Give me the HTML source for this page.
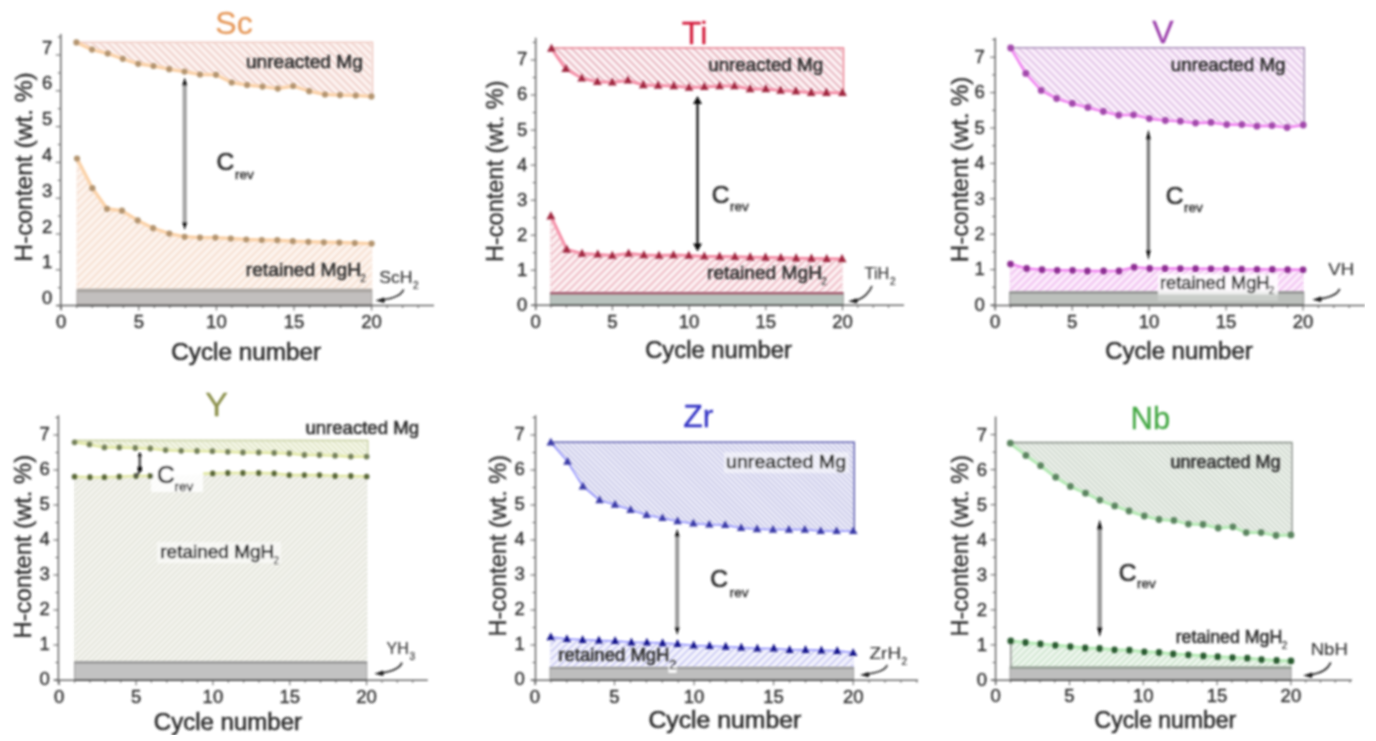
<!DOCTYPE html>
<html><head><meta charset="utf-8"><title>H-content vs cycle number</title><style>html,body{margin:0;padding:0;background:#fff;}body{width:1376px;height:741px;overflow:hidden;}svg{display:block;font-family:"Liberation Sans", sans-serif;}</style></head><body>
<svg width="1376" height="741" viewBox="0 0 1376 741" font-family='&quot;Liberation Sans&quot;, sans-serif'><defs><pattern id="p0t" patternUnits="userSpaceOnUse" width="5.4" height="5.4" patternTransform="rotate(-45)"><rect width="5.4" height="5.4" fill="#fdf3f0"/><line x1="2.7" y1="0" x2="2.7" y2="5.4" stroke="#eccbc4" stroke-width="1.6"/></pattern><pattern id="p0b" patternUnits="userSpaceOnUse" width="5.4" height="5.4" patternTransform="rotate(45)"><rect width="5.4" height="5.4" fill="#fdf4ee"/><line x1="2.7" y1="0" x2="2.7" y2="5.4" stroke="#f4dccc" stroke-width="1.6"/></pattern><pattern id="p1t" patternUnits="userSpaceOnUse" width="5.4" height="5.4" patternTransform="rotate(-45)"><rect width="5.4" height="5.4" fill="#fdf2f4"/><line x1="2.7" y1="0" x2="2.7" y2="5.4" stroke="#e2a8b4" stroke-width="1.6"/></pattern><pattern id="p1b" patternUnits="userSpaceOnUse" width="5.4" height="5.4" patternTransform="rotate(45)"><rect width="5.4" height="5.4" fill="#fdf1f3"/><line x1="2.7" y1="0" x2="2.7" y2="5.4" stroke="#eab0bc" stroke-width="1.6"/></pattern><pattern id="p2t" patternUnits="userSpaceOnUse" width="5.3" height="5.3" patternTransform="rotate(-45)"><rect width="5.3" height="5.3" fill="#fbeffb"/><line x1="2.6" y1="0" x2="2.6" y2="5.3" stroke="#dcbce4" stroke-width="1.6"/></pattern><pattern id="p2b" patternUnits="userSpaceOnUse" width="5.3" height="5.3" patternTransform="rotate(45)"><rect width="5.3" height="5.3" fill="#fcecfc"/><line x1="2.6" y1="0" x2="2.6" y2="5.3" stroke="#eeb8ee" stroke-width="1.6"/></pattern><pattern id="p3t" patternUnits="userSpaceOnUse" width="3.9" height="3.9" patternTransform="rotate(-45)"><rect width="3.9" height="3.9" fill="#f9fbee"/><line x1="1.9" y1="0" x2="1.9" y2="3.9" stroke="#d4dab4" stroke-width="1.3"/></pattern><pattern id="p3b" patternUnits="userSpaceOnUse" width="3.9" height="3.9" patternTransform="rotate(45)"><rect width="3.9" height="3.9" fill="#f9f9f4"/><line x1="1.9" y1="0" x2="1.9" y2="3.9" stroke="#d6d8cc" stroke-width="1.3"/></pattern><pattern id="p4t" patternUnits="userSpaceOnUse" width="3.6" height="3.6" patternTransform="rotate(-45)"><rect width="3.6" height="3.6" fill="#f5f5fd"/><line x1="1.8" y1="0" x2="1.8" y2="3.6" stroke="#b8b8e0" stroke-width="1.4"/></pattern><pattern id="p4b" patternUnits="userSpaceOnUse" width="5.3" height="5.3" patternTransform="rotate(45)"><rect width="5.3" height="5.3" fill="#f4f4fd"/><line x1="2.6" y1="0" x2="2.6" y2="5.3" stroke="#c4c4f2" stroke-width="1.6"/></pattern><pattern id="p5t" patternUnits="userSpaceOnUse" width="3.6" height="3.6" patternTransform="rotate(-45)"><rect width="3.6" height="3.6" fill="#f2f6f0"/><line x1="1.8" y1="0" x2="1.8" y2="3.6" stroke="#c4cec4" stroke-width="1.4"/></pattern><pattern id="p5b" patternUnits="userSpaceOnUse" width="4.5" height="4.5" patternTransform="rotate(45)"><rect width="4.5" height="4.5" fill="#f2f9f2"/><line x1="2.2" y1="0" x2="2.2" y2="4.5" stroke="#c4dec4" stroke-width="1.5"/></pattern><filter id="soft" x="0" y="0" width="100%" height="100%"><feGaussianBlur stdDeviation="0.8"/></filter><filter id="soft2" x="0" y="0" width="100%" height="100%"><feGaussianBlur stdDeviation="0.85"/></filter></defs><rect width="1376" height="741" fill="#fff"/><g filter="url(#soft2)"><polygon points="76.4,42.2 371.4,42.2 371.4,96.4 355.7,95.5 340,95.1 325,94.5 309.2,91.2 293.1,86 277.8,88.6 262.5,86.6 247.1,85 231.7,82.5 216,74.8 200,74.5 184.5,71.6 169.2,69.2 153.5,66 138.2,63.8 122.8,58.8 107.7,53.5 92,49.6 76.4,42.4" fill="url(#p0t)"/><polygon points="77,158.6 92.4,188.2 107,208.8 122,210.7 137.7,220.4 153.1,228.2 169.3,233.6 184.6,236.8 200,237.6 215.4,237.6 230.8,238.5 246.3,239.5 261.8,240 277.3,240.2 292.8,241.2 308.3,241.8 323.8,242.3 339.3,242.5 354.8,243 371.6,243.6 371.6,290 77,290" fill="url(#p0b)"/><polygon points="551.5,48 842.4,48 842.4,92.7 826.4,92.7 811.2,92.7 795.9,91.2 780.6,90.5 765.8,89 750.1,89 734.4,86.1 719.6,86.1 704.3,86.9 689,87.6 673.8,86 658.1,85.6 643.3,85 627.9,80.4 612.3,82.3 597.4,81.8 581.8,78.3 565.8,68.8 551.5,48.6" fill="url(#p1t)"/><polygon points="550.9,216.2 566.7,249.5 582,253.6 597.8,254.4 612.3,255.6 628.6,253.6 643.9,255.1 659,255.6 673.5,255.1 688.8,255.6 704.3,256.4 719.6,256.6 734.9,256.8 750.2,257.2 765.5,257.5 780.8,257.8 796.1,258.2 811.4,258.5 826.7,258.8 842,259 842,292.8 550.9,292.8" fill="url(#p1b)"/><polygon points="1010.7,47.8 1303.2,47.8 1303.2,125 1287.1,127.5 1272,125.6 1256.9,126.2 1241.8,124.6 1226.7,124.6 1211,122.4 1195.5,123.1 1180.4,121.2 1165.3,120.5 1149.3,118.6 1133.5,114.8 1118.7,115.2 1103.3,111.5 1087.9,107.4 1072.3,103.4 1056.6,98.5 1041.2,90.4 1025.8,73.4 1010.7,48" fill="url(#p2t)"/><polygon points="1010.5,264.1 1026.7,268.5 1042,269.7 1057.2,270.3 1072.6,270.3 1087.4,271 1103.6,271 1119,271 1134.1,267.2 1149.7,268.5 1165,268.5 1180.3,268.6 1195.6,268.7 1211,268.8 1226.3,269 1241.6,269.2 1257,269.3 1272.3,269.5 1287.6,269.7 1303,269.8 1303,292 1010.5,292" fill="url(#p2b)"/><polygon points="74.6,440.5 366.6,440.5 366.6,456.6 350.8,456.6 335.1,455.7 319.5,455 304.4,455 289.3,453.5 274.2,452.9 258.7,452.5 242.9,452.5 227.8,451.8 212.4,451.2 197,451 181.2,450.8 165.6,450.1 150.3,448.5 135.3,448 119.3,447.4 104.4,447.4 89.5,444.4 74.6,442.3" fill="url(#p3t)"/><polygon points="74.6,476.7 89.9,477.2 104.4,477.2 119.3,476.7 136,476 150.3,476 166,475.5 181.5,475 197,474.5 212.7,473.4 227.8,473 242.9,473 258.7,473 274.2,473.4 289.3,475.1 304.4,475.1 319.5,475.1 335.1,476 350.8,476 366.6,476.6 366.6,662 74.6,662" fill="url(#p3b)"/><polygon points="550.8,442.2 853.2,442.2 853.2,531 836.6,531 820.7,531 804.8,529.6 788.9,529.6 773,529.6 757,529.1 741.1,528 725.2,525 709.3,524.5 693.4,523.4 677.6,521.2 662.5,518 646.6,515 630.6,509.8 615,504.7 599.6,500.1 582.9,486.4 567.5,461.6 550.8,442.3" fill="url(#p4t)"/><polygon points="550.8,637.1 566.9,639 582.6,639.8 598.9,640.4 615.1,640.9 631.4,642.3 646.9,642.5 662.6,643.1 677.5,643.9 693.7,645.4 709.6,645.9 725.7,646.7 741.3,647.4 757.4,648.4 773.8,648.4 789.6,649.8 805.5,649.8 821.4,650.3 837.2,650.8 853.1,652.8 853.1,667.4 550.8,667.4" fill="url(#p4b)"/><polygon points="1010.3,442.6 1290.9,442.6 1290.9,534.9 1276,535.5 1261.1,532.6 1246.2,532.6 1232.9,526.8 1218.2,528 1203,524.5 1188.4,524.1 1173.9,520.4 1159,519.5 1144.3,516 1129,511 1114.7,505.9 1099.8,500.1 1085.5,493.2 1070.4,486.4 1055.7,477.2 1040.6,465.7 1025.9,455.4 1010.3,443.2" fill="url(#p5t)"/><polygon points="1010.8,640.9 1025.5,642.5 1040.4,643.9 1055.3,645.3 1070.3,646.6 1085.2,648 1099.6,648.5 1114.5,649.8 1129.4,650.2 1144.3,651.8 1159,652.5 1173.2,653.9 1188.3,654.8 1203.4,655.9 1217.7,656.7 1232.5,657.6 1247.3,658.2 1261.5,659.6 1276.6,660.4 1290.9,661 1290.9,667.2 1010.8,667.2" fill="url(#p5b)"/></g><g filter="url(#soft)"><g><polyline points="76.4,42.2 372.4,42.2 372.4,96.4" fill="none" stroke="#eec8c0" stroke-width="1.6"/><line x1="77" y1="158.6" x2="77" y2="290" stroke="#f4dccc" stroke-width="1" stroke-dasharray="2,2"/><line x1="371.6" y1="243.6" x2="371.6" y2="290" stroke="#f4dccc" stroke-width="1" stroke-dasharray="2,2"/><rect x="77" y="290" width="294.8" height="15.6" fill="#c2bfbe" stroke="#a09c99" stroke-width="1"/><line x1="77" y1="290.5" x2="371.8" y2="290.5" stroke="#a8a4a0" stroke-width="3.5"/><polyline points="76.4,42.4 92,49.6 107.7,53.5 122.8,58.8 138.2,63.8 153.5,66 169.2,69.2 184.5,71.6 200,74.5 216,74.8 231.7,82.5 247.1,85 262.5,86.6 277.8,88.6 293.1,86 309.2,91.2 325,94.5 340,95.1 355.7,95.5 371.4,96.4" fill="none" stroke="#fbd2a8" stroke-width="3.4" stroke-linejoin="round"/><circle cx="76.4" cy="42.4" r="3.1" fill="#b3946f"/><circle cx="92" cy="49.6" r="3.1" fill="#b3946f"/><circle cx="107.7" cy="53.5" r="3.1" fill="#b3946f"/><circle cx="122.8" cy="58.8" r="3.1" fill="#b3946f"/><circle cx="138.2" cy="63.8" r="3.1" fill="#b3946f"/><circle cx="153.5" cy="66" r="3.1" fill="#b3946f"/><circle cx="169.2" cy="69.2" r="3.1" fill="#b3946f"/><circle cx="184.5" cy="71.6" r="3.1" fill="#b3946f"/><circle cx="200" cy="74.5" r="3.1" fill="#b3946f"/><circle cx="216" cy="74.8" r="3.1" fill="#b3946f"/><circle cx="231.7" cy="82.5" r="3.1" fill="#b3946f"/><circle cx="247.1" cy="85" r="3.1" fill="#b3946f"/><circle cx="262.5" cy="86.6" r="3.1" fill="#b3946f"/><circle cx="277.8" cy="88.6" r="3.1" fill="#b3946f"/><circle cx="293.1" cy="86" r="3.1" fill="#b3946f"/><circle cx="309.2" cy="91.2" r="3.1" fill="#b3946f"/><circle cx="325" cy="94.5" r="3.1" fill="#b3946f"/><circle cx="340" cy="95.1" r="3.1" fill="#b3946f"/><circle cx="355.7" cy="95.5" r="3.1" fill="#b3946f"/><circle cx="371.4" cy="96.4" r="3.1" fill="#b3946f"/><polyline points="77,158.6 92.4,188.2 107,208.8 122,210.7 137.7,220.4 153.1,228.2 169.3,233.6 184.6,236.8 200,237.6 215.4,237.6 230.8,238.5 246.3,239.5 261.8,240 277.3,240.2 292.8,241.2 308.3,241.8 323.8,242.3 339.3,242.5 354.8,243 371.6,243.6" fill="none" stroke="#fbd2a8" stroke-width="3.4" stroke-linejoin="round"/><circle cx="77" cy="158.6" r="3.1" fill="#b3946f"/><circle cx="92.4" cy="188.2" r="3.1" fill="#b3946f"/><circle cx="107" cy="208.8" r="3.1" fill="#b3946f"/><circle cx="122" cy="210.7" r="3.1" fill="#b3946f"/><circle cx="137.7" cy="220.4" r="3.1" fill="#b3946f"/><circle cx="153.1" cy="228.2" r="3.1" fill="#b3946f"/><circle cx="169.3" cy="233.6" r="3.1" fill="#b3946f"/><circle cx="184.6" cy="236.8" r="3.1" fill="#b3946f"/><circle cx="200" cy="237.6" r="3.1" fill="#b3946f"/><circle cx="215.4" cy="237.6" r="3.1" fill="#b3946f"/><circle cx="230.8" cy="238.5" r="3.1" fill="#b3946f"/><circle cx="246.3" cy="239.5" r="3.1" fill="#b3946f"/><circle cx="261.8" cy="240" r="3.1" fill="#b3946f"/><circle cx="277.3" cy="240.2" r="3.1" fill="#b3946f"/><circle cx="292.8" cy="241.2" r="3.1" fill="#b3946f"/><circle cx="308.3" cy="241.8" r="3.1" fill="#b3946f"/><circle cx="323.8" cy="242.3" r="3.1" fill="#b3946f"/><circle cx="339.3" cy="242.5" r="3.1" fill="#b3946f"/><circle cx="354.8" cy="243" r="3.1" fill="#b3946f"/><circle cx="371.6" cy="243.6" r="3.1" fill="#b3946f"/><line x1="60.8" y1="34" x2="60.8" y2="309.6" stroke="#666" stroke-width="1.5"/><line x1="56.8" y1="305.6" x2="434" y2="305.6" stroke="#666" stroke-width="1.5"/><line x1="77" y1="305.3" x2="371.8" y2="305.3" stroke="#4a4a4a" stroke-width="1.8"/><line x1="55.8" y1="305.6" x2="60.8" y2="305.6" stroke="#666" stroke-width="1.1"/><line x1="57.8" y1="287.7" x2="60.8" y2="287.7" stroke="#666" stroke-width="1.1"/><line x1="55.8" y1="269.8" x2="60.8" y2="269.8" stroke="#666" stroke-width="1.1"/><line x1="57.8" y1="251.9" x2="60.8" y2="251.9" stroke="#666" stroke-width="1.1"/><line x1="55.8" y1="234" x2="60.8" y2="234" stroke="#666" stroke-width="1.1"/><line x1="57.8" y1="216.1" x2="60.8" y2="216.1" stroke="#666" stroke-width="1.1"/><line x1="55.8" y1="198.2" x2="60.8" y2="198.2" stroke="#666" stroke-width="1.1"/><line x1="57.8" y1="180.3" x2="60.8" y2="180.3" stroke="#666" stroke-width="1.1"/><line x1="55.8" y1="162.4" x2="60.8" y2="162.4" stroke="#666" stroke-width="1.1"/><line x1="57.8" y1="144.5" x2="60.8" y2="144.5" stroke="#666" stroke-width="1.1"/><line x1="55.8" y1="126.6" x2="60.8" y2="126.6" stroke="#666" stroke-width="1.1"/><line x1="57.8" y1="108.7" x2="60.8" y2="108.7" stroke="#666" stroke-width="1.1"/><line x1="55.8" y1="90.8" x2="60.8" y2="90.8" stroke="#666" stroke-width="1.1"/><line x1="57.8" y1="72.9" x2="60.8" y2="72.9" stroke="#666" stroke-width="1.1"/><line x1="55.8" y1="55" x2="60.8" y2="55" stroke="#666" stroke-width="1.1"/><line x1="57.8" y1="37.1" x2="60.8" y2="37.1" stroke="#666" stroke-width="1.1"/><text x="52.3" y="304.1" font-size="18.5" fill="#303030" stroke="#303030" stroke-width="0.4" text-anchor="end">0</text><text x="52.3" y="268.3" font-size="18.5" fill="#303030" stroke="#303030" stroke-width="0.4" text-anchor="end">1</text><text x="52.3" y="232.5" font-size="18.5" fill="#303030" stroke="#303030" stroke-width="0.4" text-anchor="end">2</text><text x="52.3" y="196.7" font-size="18.5" fill="#303030" stroke="#303030" stroke-width="0.4" text-anchor="end">3</text><text x="52.3" y="160.9" font-size="18.5" fill="#303030" stroke="#303030" stroke-width="0.4" text-anchor="end">4</text><text x="52.3" y="125.1" font-size="18.5" fill="#303030" stroke="#303030" stroke-width="0.4" text-anchor="end">5</text><text x="52.3" y="89.3" font-size="18.5" fill="#303030" stroke="#303030" stroke-width="0.4" text-anchor="end">6</text><text x="52.3" y="53.5" font-size="18.5" fill="#303030" stroke="#303030" stroke-width="0.4" text-anchor="end">7</text><line x1="61.2" y1="305.6" x2="61.2" y2="310.6" stroke="#666" stroke-width="1.1"/><line x1="76.7" y1="305.6" x2="76.7" y2="308.1" stroke="#666" stroke-width="1.1"/><line x1="92.2" y1="305.6" x2="92.2" y2="308.1" stroke="#666" stroke-width="1.1"/><line x1="107.8" y1="305.6" x2="107.8" y2="308.1" stroke="#666" stroke-width="1.1"/><line x1="123.3" y1="305.6" x2="123.3" y2="308.1" stroke="#666" stroke-width="1.1"/><line x1="138.8" y1="305.6" x2="138.8" y2="310.6" stroke="#666" stroke-width="1.1"/><line x1="154.3" y1="305.6" x2="154.3" y2="308.1" stroke="#666" stroke-width="1.1"/><line x1="169.8" y1="305.6" x2="169.8" y2="308.1" stroke="#666" stroke-width="1.1"/><line x1="185.4" y1="305.6" x2="185.4" y2="308.1" stroke="#666" stroke-width="1.1"/><line x1="200.9" y1="305.6" x2="200.9" y2="308.1" stroke="#666" stroke-width="1.1"/><line x1="216.4" y1="305.6" x2="216.4" y2="310.6" stroke="#666" stroke-width="1.1"/><line x1="231.9" y1="305.6" x2="231.9" y2="308.1" stroke="#666" stroke-width="1.1"/><line x1="247.4" y1="305.6" x2="247.4" y2="308.1" stroke="#666" stroke-width="1.1"/><line x1="263" y1="305.6" x2="263" y2="308.1" stroke="#666" stroke-width="1.1"/><line x1="278.5" y1="305.6" x2="278.5" y2="308.1" stroke="#666" stroke-width="1.1"/><line x1="294" y1="305.6" x2="294" y2="310.6" stroke="#666" stroke-width="1.1"/><line x1="309.5" y1="305.6" x2="309.5" y2="308.1" stroke="#666" stroke-width="1.1"/><line x1="325" y1="305.6" x2="325" y2="308.1" stroke="#666" stroke-width="1.1"/><line x1="340.6" y1="305.6" x2="340.6" y2="308.1" stroke="#666" stroke-width="1.1"/><line x1="356.1" y1="305.6" x2="356.1" y2="308.1" stroke="#666" stroke-width="1.1"/><line x1="371.6" y1="305.6" x2="371.6" y2="310.6" stroke="#666" stroke-width="1.1"/><line x1="387.1" y1="305.6" x2="387.1" y2="308.1" stroke="#666" stroke-width="1.1"/><line x1="402.6" y1="305.6" x2="402.6" y2="308.1" stroke="#666" stroke-width="1.1"/><line x1="418.2" y1="305.6" x2="418.2" y2="308.1" stroke="#666" stroke-width="1.1"/><text x="61.2" y="327.9" font-size="18.5" fill="#303030" stroke="#303030" stroke-width="0.4" text-anchor="middle">0</text><text x="138.8" y="327.9" font-size="18.5" fill="#303030" stroke="#303030" stroke-width="0.4" text-anchor="middle">5</text><text x="216.4" y="327.9" font-size="18.5" fill="#303030" stroke="#303030" stroke-width="0.4" text-anchor="middle">10</text><text x="294" y="327.9" font-size="18.5" fill="#303030" stroke="#303030" stroke-width="0.4" text-anchor="middle">15</text><text x="371.6" y="327.9" font-size="18.5" fill="#303030" stroke="#303030" stroke-width="0.4" text-anchor="middle">20</text><text x="171.2" y="359.7" font-size="23.5" fill="#303030" stroke="#303030" stroke-width="0.6" text-anchor="start" textLength="149.9" lengthAdjust="spacingAndGlyphs">Cycle number</text><text transform="translate(31.5,167) rotate(-90)" x="0" y="0" font-size="24.5" fill="#303030" stroke="#303030" stroke-width="0.4" text-anchor="middle" textLength="189.5" lengthAdjust="spacingAndGlyphs">H-content (wt. %)</text><text x="234" y="34" font-size="32" fill="#e69a5c" stroke="#e69a5c" stroke-width="0.3" text-anchor="middle">Sc</text><text x="245.9" y="68.3" font-size="17.5" fill="#303030" stroke="#303030" stroke-width="0.6" text-anchor="start" textLength="117" lengthAdjust="spacingAndGlyphs">unreacted Mg</text><text x="245.8" y="276.2" font-size="17.5" fill="#303030" stroke="#303030" stroke-width="0.6" text-anchor="start" textLength="115.3" lengthAdjust="spacingAndGlyphs">retained MgH</text><text x="360.3" y="281.7" font-size="10" fill="#303030" stroke="#303030" stroke-width="0.2" text-anchor="start">2</text><text x="216.6" y="169.7" font-size="24.5" fill="#303030" stroke="#303030" stroke-width="0.7" text-anchor="start">C</text><text x="235" y="179" font-size="13.5" fill="#303030" stroke="#303030" stroke-width="0.4" text-anchor="start">rev</text><line x1="184.7" y1="84.5" x2="184.7" y2="223" stroke="#a4a4a4" stroke-width="4.2"/><polygon points="184.7,77.5 182.1,85.5 187.3,85.5" fill="#111"/><polygon points="184.7,230 182.1,222 187.3,222" fill="#111"/><text x="379.2" y="283.4" font-size="16" fill="#303030" stroke="#303030" stroke-width="0.1" text-anchor="start" textLength="33.3" lengthAdjust="spacingAndGlyphs">ScH</text><text x="413" y="289.4" font-size="10" fill="#303030" stroke="#303030" stroke-width="0.2" text-anchor="start">2</text><path d="M403.6,289.5 C401.6,294.5 395.6,298.3 382,299.8" fill="none" stroke="#2a2a2a" stroke-width="1.7"/><polygon points="375.5,300.6 384,297.5 385,300.8 384,302.9" fill="#222"/></g>
<g><polyline points="551.5,48 843.4,48 843.4,92.7" fill="none" stroke="#e88090" stroke-width="1.6"/><line x1="550.9" y1="216.2" x2="550.9" y2="292.8" stroke="#eab0bc" stroke-width="1" stroke-dasharray="2,2"/><line x1="842" y1="259" x2="842" y2="292.8" stroke="#eab0bc" stroke-width="1" stroke-dasharray="2,2"/><rect x="550.4" y="292.8" width="292.9" height="12.5" fill="#b8c2bd" stroke="#9aa09c" stroke-width="1"/><line x1="550.4" y1="293.3" x2="843.3" y2="293.3" stroke="#a05068" stroke-width="2.5"/><polyline points="551.5,48.6 565.8,68.8 581.8,78.3 597.4,81.8 612.3,82.3 627.9,80.4 643.3,85 658.1,85.6 673.8,86 689,87.6 704.3,86.9 719.6,86.1 734.4,86.1 750.1,89 765.8,89 780.6,90.5 795.9,91.2 811.2,92.7 826.4,92.7 842.4,92.7" fill="none" stroke="#f590a8" stroke-width="3" stroke-linejoin="round"/><polygon points="551.5,43.7 547,51.8 556,51.8" fill="#a02840"/><polygon points="565.8,63.9 561.3,72 570.3,72" fill="#a02840"/><polygon points="581.8,73.4 577.3,81.5 586.3,81.5" fill="#a02840"/><polygon points="597.4,76.9 592.9,85 601.9,85" fill="#a02840"/><polygon points="612.3,77.4 607.8,85.5 616.8,85.5" fill="#a02840"/><polygon points="627.9,75.5 623.4,83.6 632.4,83.6" fill="#a02840"/><polygon points="643.3,80.1 638.8,88.2 647.8,88.2" fill="#a02840"/><polygon points="658.1,80.7 653.6,88.8 662.6,88.8" fill="#a02840"/><polygon points="673.8,81.1 669.3,89.2 678.3,89.2" fill="#a02840"/><polygon points="689,82.7 684.5,90.8 693.5,90.8" fill="#a02840"/><polygon points="704.3,82 699.8,90.1 708.8,90.1" fill="#a02840"/><polygon points="719.6,81.2 715.1,89.3 724.1,89.3" fill="#a02840"/><polygon points="734.4,81.2 729.9,89.3 738.9,89.3" fill="#a02840"/><polygon points="750.1,84.1 745.6,92.2 754.6,92.2" fill="#a02840"/><polygon points="765.8,84.1 761.3,92.2 770.3,92.2" fill="#a02840"/><polygon points="780.6,85.6 776.1,93.7 785.1,93.7" fill="#a02840"/><polygon points="795.9,86.3 791.4,94.4 800.4,94.4" fill="#a02840"/><polygon points="811.2,87.8 806.7,95.9 815.7,95.9" fill="#a02840"/><polygon points="826.4,87.8 821.9,95.9 830.9,95.9" fill="#a02840"/><polygon points="842.4,87.8 837.9,95.9 846.9,95.9" fill="#a02840"/><polyline points="550.9,216.2 566.7,249.5 582,253.6 597.8,254.4 612.3,255.6 628.6,253.6 643.9,255.1 659,255.6 673.5,255.1 688.8,255.6 704.3,256.4 719.6,256.6 734.9,256.8 750.2,257.2 765.5,257.5 780.8,257.8 796.1,258.2 811.4,258.5 826.7,258.8 842,259" fill="none" stroke="#f590a8" stroke-width="3" stroke-linejoin="round"/><polygon points="550.9,211.3 546.4,219.4 555.4,219.4" fill="#a02840"/><polygon points="566.7,244.6 562.2,252.7 571.2,252.7" fill="#a02840"/><polygon points="582,248.7 577.5,256.8 586.5,256.8" fill="#a02840"/><polygon points="597.8,249.5 593.3,257.6 602.3,257.6" fill="#a02840"/><polygon points="612.3,250.7 607.8,258.8 616.8,258.8" fill="#a02840"/><polygon points="628.6,248.7 624.1,256.8 633.1,256.8" fill="#a02840"/><polygon points="643.9,250.2 639.4,258.3 648.4,258.3" fill="#a02840"/><polygon points="659,250.7 654.5,258.8 663.5,258.8" fill="#a02840"/><polygon points="673.5,250.2 669,258.3 678,258.3" fill="#a02840"/><polygon points="688.8,250.7 684.3,258.8 693.3,258.8" fill="#a02840"/><polygon points="704.3,251.5 699.8,259.6 708.8,259.6" fill="#a02840"/><polygon points="719.6,251.7 715.1,259.8 724.1,259.8" fill="#a02840"/><polygon points="734.9,251.9 730.4,260 739.4,260" fill="#a02840"/><polygon points="750.2,252.3 745.7,260.4 754.7,260.4" fill="#a02840"/><polygon points="765.5,252.6 761,260.7 770,260.7" fill="#a02840"/><polygon points="780.8,252.9 776.3,261 785.3,261" fill="#a02840"/><polygon points="796.1,253.3 791.6,261.4 800.6,261.4" fill="#a02840"/><polygon points="811.4,253.6 806.9,261.7 815.9,261.7" fill="#a02840"/><polygon points="826.7,253.9 822.2,262 831.2,262" fill="#a02840"/><polygon points="842,254.1 837.5,262.2 846.5,262.2" fill="#a02840"/><line x1="535.7" y1="37.8" x2="535.7" y2="309.3" stroke="#666" stroke-width="1.5"/><line x1="531.7" y1="305.3" x2="904" y2="305.3" stroke="#666" stroke-width="1.5"/><line x1="550.4" y1="305" x2="843.3" y2="305" stroke="#4a4a4a" stroke-width="1.8"/><line x1="530.7" y1="305.3" x2="535.7" y2="305.3" stroke="#666" stroke-width="1.1"/><line x1="532.7" y1="287.8" x2="535.7" y2="287.8" stroke="#666" stroke-width="1.1"/><line x1="530.7" y1="270.2" x2="535.7" y2="270.2" stroke="#666" stroke-width="1.1"/><line x1="532.7" y1="252.7" x2="535.7" y2="252.7" stroke="#666" stroke-width="1.1"/><line x1="530.7" y1="235.2" x2="535.7" y2="235.2" stroke="#666" stroke-width="1.1"/><line x1="532.7" y1="217.7" x2="535.7" y2="217.7" stroke="#666" stroke-width="1.1"/><line x1="530.7" y1="200.2" x2="535.7" y2="200.2" stroke="#666" stroke-width="1.1"/><line x1="532.7" y1="182.6" x2="535.7" y2="182.6" stroke="#666" stroke-width="1.1"/><line x1="530.7" y1="165.1" x2="535.7" y2="165.1" stroke="#666" stroke-width="1.1"/><line x1="532.7" y1="147.6" x2="535.7" y2="147.6" stroke="#666" stroke-width="1.1"/><line x1="530.7" y1="130.1" x2="535.7" y2="130.1" stroke="#666" stroke-width="1.1"/><line x1="532.7" y1="112.5" x2="535.7" y2="112.5" stroke="#666" stroke-width="1.1"/><line x1="530.7" y1="95" x2="535.7" y2="95" stroke="#666" stroke-width="1.1"/><line x1="532.7" y1="77.5" x2="535.7" y2="77.5" stroke="#666" stroke-width="1.1"/><line x1="530.7" y1="60" x2="535.7" y2="60" stroke="#666" stroke-width="1.1"/><line x1="532.7" y1="42.4" x2="535.7" y2="42.4" stroke="#666" stroke-width="1.1"/><text x="527.2" y="310.7" font-size="18.5" fill="#303030" stroke="#303030" stroke-width="0.4" text-anchor="end">0</text><text x="527.2" y="275.7" font-size="18.5" fill="#303030" stroke="#303030" stroke-width="0.4" text-anchor="end">1</text><text x="527.2" y="240.6" font-size="18.5" fill="#303030" stroke="#303030" stroke-width="0.4" text-anchor="end">2</text><text x="527.2" y="205.6" font-size="18.5" fill="#303030" stroke="#303030" stroke-width="0.4" text-anchor="end">3</text><text x="527.2" y="170.5" font-size="18.5" fill="#303030" stroke="#303030" stroke-width="0.4" text-anchor="end">4</text><text x="527.2" y="135.5" font-size="18.5" fill="#303030" stroke="#303030" stroke-width="0.4" text-anchor="end">5</text><text x="527.2" y="100.4" font-size="18.5" fill="#303030" stroke="#303030" stroke-width="0.4" text-anchor="end">6</text><text x="527.2" y="65.4" font-size="18.5" fill="#303030" stroke="#303030" stroke-width="0.4" text-anchor="end">7</text><line x1="535.7" y1="305.3" x2="535.7" y2="310.3" stroke="#666" stroke-width="1.1"/><line x1="551" y1="305.3" x2="551" y2="307.8" stroke="#666" stroke-width="1.1"/><line x1="566.4" y1="305.3" x2="566.4" y2="307.8" stroke="#666" stroke-width="1.1"/><line x1="581.7" y1="305.3" x2="581.7" y2="307.8" stroke="#666" stroke-width="1.1"/><line x1="597.1" y1="305.3" x2="597.1" y2="307.8" stroke="#666" stroke-width="1.1"/><line x1="612.4" y1="305.3" x2="612.4" y2="310.3" stroke="#666" stroke-width="1.1"/><line x1="627.7" y1="305.3" x2="627.7" y2="307.8" stroke="#666" stroke-width="1.1"/><line x1="643.1" y1="305.3" x2="643.1" y2="307.8" stroke="#666" stroke-width="1.1"/><line x1="658.4" y1="305.3" x2="658.4" y2="307.8" stroke="#666" stroke-width="1.1"/><line x1="673.8" y1="305.3" x2="673.8" y2="307.8" stroke="#666" stroke-width="1.1"/><line x1="689.1" y1="305.3" x2="689.1" y2="310.3" stroke="#666" stroke-width="1.1"/><line x1="704.4" y1="305.3" x2="704.4" y2="307.8" stroke="#666" stroke-width="1.1"/><line x1="719.8" y1="305.3" x2="719.8" y2="307.8" stroke="#666" stroke-width="1.1"/><line x1="735.1" y1="305.3" x2="735.1" y2="307.8" stroke="#666" stroke-width="1.1"/><line x1="750.5" y1="305.3" x2="750.5" y2="307.8" stroke="#666" stroke-width="1.1"/><line x1="765.8" y1="305.3" x2="765.8" y2="310.3" stroke="#666" stroke-width="1.1"/><line x1="781.1" y1="305.3" x2="781.1" y2="307.8" stroke="#666" stroke-width="1.1"/><line x1="796.5" y1="305.3" x2="796.5" y2="307.8" stroke="#666" stroke-width="1.1"/><line x1="811.8" y1="305.3" x2="811.8" y2="307.8" stroke="#666" stroke-width="1.1"/><line x1="827.2" y1="305.3" x2="827.2" y2="307.8" stroke="#666" stroke-width="1.1"/><line x1="842.5" y1="305.3" x2="842.5" y2="310.3" stroke="#666" stroke-width="1.1"/><line x1="857.8" y1="305.3" x2="857.8" y2="307.8" stroke="#666" stroke-width="1.1"/><line x1="873.2" y1="305.3" x2="873.2" y2="307.8" stroke="#666" stroke-width="1.1"/><line x1="888.5" y1="305.3" x2="888.5" y2="307.8" stroke="#666" stroke-width="1.1"/><text x="535.7" y="327.8" font-size="18.5" fill="#303030" stroke="#303030" stroke-width="0.4" text-anchor="middle">0</text><text x="612.4" y="327.8" font-size="18.5" fill="#303030" stroke="#303030" stroke-width="0.4" text-anchor="middle">5</text><text x="689.1" y="327.8" font-size="18.5" fill="#303030" stroke="#303030" stroke-width="0.4" text-anchor="middle">10</text><text x="765.8" y="327.8" font-size="18.5" fill="#303030" stroke="#303030" stroke-width="0.4" text-anchor="middle">15</text><text x="842.5" y="327.8" font-size="18.5" fill="#303030" stroke="#303030" stroke-width="0.4" text-anchor="middle">20</text><text x="645.2" y="358.1" font-size="23.5" fill="#303030" stroke="#303030" stroke-width="0.6" text-anchor="start" textLength="146.8" lengthAdjust="spacingAndGlyphs">Cycle number</text><text transform="translate(503,171.2) rotate(-90)" x="0" y="0" font-size="24.5" fill="#303030" stroke="#303030" stroke-width="0.4" text-anchor="middle" textLength="181.5" lengthAdjust="spacingAndGlyphs">H-content (wt. %)</text><text x="694.5" y="43.6" font-size="32" fill="#d42040" stroke="#d42040" stroke-width="0.3" text-anchor="middle">Ti</text><text x="708.2" y="70.9" font-size="17.5" fill="#303030" stroke="#303030" stroke-width="0.6" text-anchor="start" textLength="115" lengthAdjust="spacingAndGlyphs">unreacted Mg</text><text x="707.1" y="279.3" font-size="17.5" fill="#303030" stroke="#303030" stroke-width="0.6" text-anchor="start" textLength="114.9" lengthAdjust="spacingAndGlyphs">retained MgH</text><text x="821.2" y="284.8" font-size="10" fill="#303030" stroke="#303030" stroke-width="0.2" text-anchor="start">2</text><text x="711.8" y="203.4" font-size="24.5" fill="#303030" stroke="#303030" stroke-width="0.7" text-anchor="start">C</text><text x="730" y="211.3" font-size="13.5" fill="#303030" stroke="#303030" stroke-width="0.4" text-anchor="start">rev</text><line x1="697.5" y1="103.1" x2="697.5" y2="244.5" stroke="#2a2a2a" stroke-width="2.6"/><polygon points="697.5,96.1 693,104.1 702,104.1" fill="#111"/><polygon points="697.5,251.5 693,243.5 702,243.5" fill="#111"/><text x="864.6" y="279.3" font-size="16" fill="#303030" stroke="#303030" stroke-width="0.1" text-anchor="start" textLength="24.7" lengthAdjust="spacingAndGlyphs">TiH</text><text x="889.9" y="285.3" font-size="10" fill="#303030" stroke="#303030" stroke-width="0.2" text-anchor="start">2</text><path d="M872,286 C870,291 864,299 854.7,300.5" fill="none" stroke="#2a2a2a" stroke-width="1.7"/><polygon points="848.2,301.3 856.7,298.2 857.7,301.5 856.7,303.6" fill="#222"/></g>
<g><polyline points="1010.7,47.8 1304.2,47.8 1304.2,125" fill="none" stroke="#a890b8" stroke-width="1.6"/><line x1="1010.5" y1="264.1" x2="1010.5" y2="292" stroke="#eeb8ee" stroke-width="1" stroke-dasharray="2,2"/><line x1="1303" y1="269.8" x2="1303" y2="292" stroke="#eeb8ee" stroke-width="1" stroke-dasharray="2,2"/><rect x="1009.7" y="292" width="294" height="13.5" fill="#bcc0bc" stroke="#8c8c8c" stroke-width="1"/><line x1="1009.7" y1="292.5" x2="1303.7" y2="292.5" stroke="#858585" stroke-width="2"/><rect x="1158" y="274" width="120" height="20.5" fill="#fff" fill-opacity="0.85"/><rect x="1158" y="294.5" width="120" height="6.5" fill="#fff" fill-opacity="0.22"/><polyline points="1010.7,48 1025.8,73.4 1041.2,90.4 1056.6,98.5 1072.3,103.4 1087.9,107.4 1103.3,111.5 1118.7,115.2 1133.5,114.8 1149.3,118.6 1165.3,120.5 1180.4,121.2 1195.5,123.1 1211,122.4 1226.7,124.6 1241.8,124.6 1256.9,126.2 1272,125.6 1287.1,127.5 1303.2,125" fill="none" stroke="#f184f1" stroke-width="2.6" stroke-linejoin="round"/><circle cx="1010.7" cy="48" r="3.4" fill="#a24aab"/><circle cx="1025.8" cy="73.4" r="3.4" fill="#a24aab"/><circle cx="1041.2" cy="90.4" r="3.4" fill="#a24aab"/><circle cx="1056.6" cy="98.5" r="3.4" fill="#a24aab"/><circle cx="1072.3" cy="103.4" r="3.4" fill="#a24aab"/><circle cx="1087.9" cy="107.4" r="3.4" fill="#a24aab"/><circle cx="1103.3" cy="111.5" r="3.4" fill="#a24aab"/><circle cx="1118.7" cy="115.2" r="3.4" fill="#a24aab"/><circle cx="1133.5" cy="114.8" r="3.4" fill="#a24aab"/><circle cx="1149.3" cy="118.6" r="3.4" fill="#a24aab"/><circle cx="1165.3" cy="120.5" r="3.4" fill="#a24aab"/><circle cx="1180.4" cy="121.2" r="3.4" fill="#a24aab"/><circle cx="1195.5" cy="123.1" r="3.4" fill="#a24aab"/><circle cx="1211" cy="122.4" r="3.4" fill="#a24aab"/><circle cx="1226.7" cy="124.6" r="3.4" fill="#a24aab"/><circle cx="1241.8" cy="124.6" r="3.4" fill="#a24aab"/><circle cx="1256.9" cy="126.2" r="3.4" fill="#a24aab"/><circle cx="1272" cy="125.6" r="3.4" fill="#a24aab"/><circle cx="1287.1" cy="127.5" r="3.4" fill="#a24aab"/><circle cx="1303.2" cy="125" r="3.4" fill="#a24aab"/><polyline points="1010.5,264.1 1026.7,268.5 1042,269.7 1057.2,270.3 1072.6,270.3 1087.4,271 1103.6,271 1119,271 1134.1,267.2 1149.7,268.5 1165,268.5 1180.3,268.6 1195.6,268.7 1211,268.8 1226.3,269 1241.6,269.2 1257,269.3 1272.3,269.5 1287.6,269.7 1303,269.8" fill="none" stroke="#f184f1" stroke-width="2.6" stroke-linejoin="round"/><circle cx="1010.5" cy="264.1" r="3.4" fill="#8c2e92"/><circle cx="1026.7" cy="268.5" r="3.4" fill="#8c2e92"/><circle cx="1042" cy="269.7" r="3.4" fill="#8c2e92"/><circle cx="1057.2" cy="270.3" r="3.4" fill="#8c2e92"/><circle cx="1072.6" cy="270.3" r="3.4" fill="#8c2e92"/><circle cx="1087.4" cy="271" r="3.4" fill="#8c2e92"/><circle cx="1103.6" cy="271" r="3.4" fill="#8c2e92"/><circle cx="1119" cy="271" r="3.4" fill="#8c2e92"/><circle cx="1134.1" cy="267.2" r="3.4" fill="#8c2e92"/><circle cx="1149.7" cy="268.5" r="3.4" fill="#8c2e92"/><circle cx="1165" cy="268.5" r="3.4" fill="#8c2e92"/><circle cx="1180.3" cy="268.6" r="3.4" fill="#8c2e92"/><circle cx="1195.6" cy="268.7" r="3.4" fill="#8c2e92"/><circle cx="1211" cy="268.8" r="3.4" fill="#8c2e92"/><circle cx="1226.3" cy="269" r="3.4" fill="#8c2e92"/><circle cx="1241.6" cy="269.2" r="3.4" fill="#8c2e92"/><circle cx="1257" cy="269.3" r="3.4" fill="#8c2e92"/><circle cx="1272.3" cy="269.5" r="3.4" fill="#8c2e92"/><circle cx="1287.6" cy="269.7" r="3.4" fill="#8c2e92"/><circle cx="1303" cy="269.8" r="3.4" fill="#8c2e92"/><line x1="995.2" y1="37.8" x2="995.2" y2="309.5" stroke="#666" stroke-width="1.5"/><line x1="991.2" y1="305.5" x2="1365" y2="305.5" stroke="#666" stroke-width="1.5"/><line x1="1009.7" y1="305.2" x2="1303.7" y2="305.2" stroke="#4a4a4a" stroke-width="1.8"/><line x1="990.2" y1="305" x2="995.2" y2="305" stroke="#666" stroke-width="1.1"/><line x1="992.2" y1="287.3" x2="995.2" y2="287.3" stroke="#666" stroke-width="1.1"/><line x1="990.2" y1="269.6" x2="995.2" y2="269.6" stroke="#666" stroke-width="1.1"/><line x1="992.2" y1="251.9" x2="995.2" y2="251.9" stroke="#666" stroke-width="1.1"/><line x1="990.2" y1="234.2" x2="995.2" y2="234.2" stroke="#666" stroke-width="1.1"/><line x1="992.2" y1="216.5" x2="995.2" y2="216.5" stroke="#666" stroke-width="1.1"/><line x1="990.2" y1="198.8" x2="995.2" y2="198.8" stroke="#666" stroke-width="1.1"/><line x1="992.2" y1="181.1" x2="995.2" y2="181.1" stroke="#666" stroke-width="1.1"/><line x1="990.2" y1="163.4" x2="995.2" y2="163.4" stroke="#666" stroke-width="1.1"/><line x1="992.2" y1="145.7" x2="995.2" y2="145.7" stroke="#666" stroke-width="1.1"/><line x1="990.2" y1="128" x2="995.2" y2="128" stroke="#666" stroke-width="1.1"/><line x1="992.2" y1="110.3" x2="995.2" y2="110.3" stroke="#666" stroke-width="1.1"/><line x1="990.2" y1="92.6" x2="995.2" y2="92.6" stroke="#666" stroke-width="1.1"/><line x1="992.2" y1="74.9" x2="995.2" y2="74.9" stroke="#666" stroke-width="1.1"/><line x1="990.2" y1="57.2" x2="995.2" y2="57.2" stroke="#666" stroke-width="1.1"/><line x1="992.2" y1="39.5" x2="995.2" y2="39.5" stroke="#666" stroke-width="1.1"/><text x="984.7" y="310.8" font-size="18.5" fill="#303030" stroke="#303030" stroke-width="0.4" text-anchor="end">0</text><text x="984.7" y="275.4" font-size="18.5" fill="#303030" stroke="#303030" stroke-width="0.4" text-anchor="end">1</text><text x="984.7" y="240" font-size="18.5" fill="#303030" stroke="#303030" stroke-width="0.4" text-anchor="end">2</text><text x="984.7" y="204.6" font-size="18.5" fill="#303030" stroke="#303030" stroke-width="0.4" text-anchor="end">3</text><text x="984.7" y="169.2" font-size="18.5" fill="#303030" stroke="#303030" stroke-width="0.4" text-anchor="end">4</text><text x="984.7" y="133.8" font-size="18.5" fill="#303030" stroke="#303030" stroke-width="0.4" text-anchor="end">5</text><text x="984.7" y="98.4" font-size="18.5" fill="#303030" stroke="#303030" stroke-width="0.4" text-anchor="end">6</text><text x="984.7" y="63" font-size="18.5" fill="#303030" stroke="#303030" stroke-width="0.4" text-anchor="end">7</text><line x1="995.2" y1="305.5" x2="995.2" y2="310.5" stroke="#666" stroke-width="1.1"/><line x1="1010.6" y1="305.5" x2="1010.6" y2="308" stroke="#666" stroke-width="1.1"/><line x1="1026" y1="305.5" x2="1026" y2="308" stroke="#666" stroke-width="1.1"/><line x1="1041.4" y1="305.5" x2="1041.4" y2="308" stroke="#666" stroke-width="1.1"/><line x1="1056.8" y1="305.5" x2="1056.8" y2="308" stroke="#666" stroke-width="1.1"/><line x1="1072.2" y1="305.5" x2="1072.2" y2="310.5" stroke="#666" stroke-width="1.1"/><line x1="1087.5" y1="305.5" x2="1087.5" y2="308" stroke="#666" stroke-width="1.1"/><line x1="1102.9" y1="305.5" x2="1102.9" y2="308" stroke="#666" stroke-width="1.1"/><line x1="1118.3" y1="305.5" x2="1118.3" y2="308" stroke="#666" stroke-width="1.1"/><line x1="1133.7" y1="305.5" x2="1133.7" y2="308" stroke="#666" stroke-width="1.1"/><line x1="1149.1" y1="305.5" x2="1149.1" y2="310.5" stroke="#666" stroke-width="1.1"/><line x1="1164.5" y1="305.5" x2="1164.5" y2="308" stroke="#666" stroke-width="1.1"/><line x1="1179.9" y1="305.5" x2="1179.9" y2="308" stroke="#666" stroke-width="1.1"/><line x1="1195.3" y1="305.5" x2="1195.3" y2="308" stroke="#666" stroke-width="1.1"/><line x1="1210.7" y1="305.5" x2="1210.7" y2="308" stroke="#666" stroke-width="1.1"/><line x1="1226.1" y1="305.5" x2="1226.1" y2="310.5" stroke="#666" stroke-width="1.1"/><line x1="1241.4" y1="305.5" x2="1241.4" y2="308" stroke="#666" stroke-width="1.1"/><line x1="1256.8" y1="305.5" x2="1256.8" y2="308" stroke="#666" stroke-width="1.1"/><line x1="1272.2" y1="305.5" x2="1272.2" y2="308" stroke="#666" stroke-width="1.1"/><line x1="1287.6" y1="305.5" x2="1287.6" y2="308" stroke="#666" stroke-width="1.1"/><line x1="1303" y1="305.5" x2="1303" y2="310.5" stroke="#666" stroke-width="1.1"/><line x1="1318.4" y1="305.5" x2="1318.4" y2="308" stroke="#666" stroke-width="1.1"/><line x1="1333.8" y1="305.5" x2="1333.8" y2="308" stroke="#666" stroke-width="1.1"/><line x1="1349.2" y1="305.5" x2="1349.2" y2="308" stroke="#666" stroke-width="1.1"/><text x="995.2" y="328" font-size="18.5" fill="#303030" stroke="#303030" stroke-width="0.4" text-anchor="middle">0</text><text x="1072.2" y="328" font-size="18.5" fill="#303030" stroke="#303030" stroke-width="0.4" text-anchor="middle">5</text><text x="1149.1" y="328" font-size="18.5" fill="#303030" stroke="#303030" stroke-width="0.4" text-anchor="middle">10</text><text x="1226.1" y="328" font-size="18.5" fill="#303030" stroke="#303030" stroke-width="0.4" text-anchor="middle">15</text><text x="1303" y="328" font-size="18.5" fill="#303030" stroke="#303030" stroke-width="0.4" text-anchor="middle">20</text><text x="1105.2" y="358.8" font-size="23.5" fill="#303030" stroke="#303030" stroke-width="0.6" text-anchor="start" textLength="147.5" lengthAdjust="spacingAndGlyphs">Cycle number</text><text transform="translate(968,169.4) rotate(-90)" x="0" y="0" font-size="24.5" fill="#303030" stroke="#303030" stroke-width="0.4" text-anchor="middle" textLength="185.5" lengthAdjust="spacingAndGlyphs">H-content (wt. %)</text><text x="1163" y="43.4" font-size="32" fill="#9c40ac" stroke="#9c40ac" stroke-width="0.3" text-anchor="middle">V</text><text x="1170.8" y="71.4" font-size="17.5" fill="#303030" stroke="#303030" stroke-width="0.6" text-anchor="start" textLength="114.7" lengthAdjust="spacingAndGlyphs">unreacted Mg</text><text x="1160" y="288.9" font-size="17.5" fill="#303030" stroke="#303030" stroke-width="0.6" text-anchor="start" textLength="109.5" lengthAdjust="spacingAndGlyphs">retained MgH</text><text x="1268.8" y="294.4" font-size="10" fill="#303030" stroke="#303030" stroke-width="0.2" text-anchor="start">2</text><text x="1165.7" y="203.6" font-size="24.5" fill="#303030" stroke="#303030" stroke-width="0.7" text-anchor="start">C</text><text x="1183.9" y="211.9" font-size="13.5" fill="#303030" stroke="#303030" stroke-width="0.4" text-anchor="start">rev</text><line x1="1148.4" y1="138.5" x2="1148.4" y2="251" stroke="#7a7a7a" stroke-width="3.4"/><polygon points="1148.4,129.5 1146,139.5 1150.8,139.5" fill="#111"/><polygon points="1148.4,260 1146,250 1150.8,250" fill="#111"/><text x="1328.3" y="274.7" font-size="16" fill="#303030" stroke="#303030" stroke-width="0.1" text-anchor="start" textLength="25.8" lengthAdjust="spacingAndGlyphs">VH</text><path d="M1339.7,288.9 C1337.7,293.9 1331.7,297.4 1318.8,298.9" fill="none" stroke="#2a2a2a" stroke-width="1.7"/><polygon points="1312.3,299.7 1320.8,296.6 1321.8,299.9 1320.8,302" fill="#222"/></g>
<g><polyline points="74.6,440.5 367.6,440.5 367.6,456.6" fill="none" stroke="#c8d0a0" stroke-width="1.6"/><line x1="74.6" y1="476.7" x2="74.6" y2="662" stroke="#d6d8cc" stroke-width="1" stroke-dasharray="2,2"/><line x1="366.6" y1="476.6" x2="366.6" y2="662" stroke="#d6d8cc" stroke-width="1" stroke-dasharray="2,2"/><rect x="74.6" y="662" width="292.2" height="18.3" fill="#c2c2c2" stroke="#9a9a9a" stroke-width="1"/><line x1="74.6" y1="662.5" x2="366.8" y2="662.5" stroke="#8a8a8a" stroke-width="1.8"/><rect x="151" y="462" width="52" height="30" fill="#fff" fill-opacity="0.85"/><rect x="157" y="542" width="124" height="21" fill="#fff" fill-opacity="0.55"/><polyline points="74.6,442.3 89.5,444.4 104.4,447.4 119.3,447.4 135.3,448 150.3,448.5 165.6,450.1 181.2,450.8 197,451 212.4,451.2 227.8,451.8 242.9,452.5 258.7,452.5 274.2,452.9 289.3,453.5 304.4,455 319.5,455 335.1,455.7 350.8,456.6 366.6,456.6" fill="none" stroke="#e2e8a4" stroke-width="2.6" stroke-linejoin="round"/><circle cx="74.6" cy="442.3" r="2.9" fill="#75805a"/><circle cx="89.5" cy="444.4" r="2.9" fill="#75805a"/><circle cx="104.4" cy="447.4" r="2.9" fill="#75805a"/><circle cx="119.3" cy="447.4" r="2.9" fill="#75805a"/><circle cx="135.3" cy="448" r="2.9" fill="#75805a"/><circle cx="150.3" cy="448.5" r="2.9" fill="#75805a"/><circle cx="165.6" cy="450.1" r="2.9" fill="#75805a"/><circle cx="181.2" cy="450.8" r="2.9" fill="#75805a"/><circle cx="197" cy="451" r="2.9" fill="#75805a"/><circle cx="212.4" cy="451.2" r="2.9" fill="#75805a"/><circle cx="227.8" cy="451.8" r="2.9" fill="#75805a"/><circle cx="242.9" cy="452.5" r="2.9" fill="#75805a"/><circle cx="258.7" cy="452.5" r="2.9" fill="#75805a"/><circle cx="274.2" cy="452.9" r="2.9" fill="#75805a"/><circle cx="289.3" cy="453.5" r="2.9" fill="#75805a"/><circle cx="304.4" cy="455" r="2.9" fill="#75805a"/><circle cx="319.5" cy="455" r="2.9" fill="#75805a"/><circle cx="335.1" cy="455.7" r="2.9" fill="#75805a"/><circle cx="350.8" cy="456.6" r="2.9" fill="#75805a"/><circle cx="366.6" cy="456.6" r="2.9" fill="#75805a"/><polyline points="74.6,476.7 89.9,477.2 104.4,477.2 119.3,476.7 136,476 150.3,476" fill="none" stroke="#e2e8a4" stroke-width="2.6" stroke-linejoin="round"/><polyline points="203,473.6 212.7,473.4 227.8,473 242.9,473 258.7,473 274.2,473.4 289.3,475.1 304.4,475.1 319.5,475.1 335.1,476 350.8,476 366.6,476.6" fill="none" stroke="#e2e8a4" stroke-width="2.6" stroke-linejoin="round"/><circle cx="74.6" cy="476.7" r="2.9" fill="#5a6838"/><circle cx="89.9" cy="477.2" r="2.9" fill="#5a6838"/><circle cx="104.4" cy="477.2" r="2.9" fill="#5a6838"/><circle cx="119.3" cy="476.7" r="2.9" fill="#5a6838"/><circle cx="136" cy="476" r="2.9" fill="#5a6838"/><circle cx="150.3" cy="476" r="2.9" fill="#5a6838"/><circle cx="212.7" cy="473.4" r="2.9" fill="#5a6838"/><circle cx="227.8" cy="473" r="2.9" fill="#5a6838"/><circle cx="242.9" cy="473" r="2.9" fill="#5a6838"/><circle cx="258.7" cy="473" r="2.9" fill="#5a6838"/><circle cx="274.2" cy="473.4" r="2.9" fill="#5a6838"/><circle cx="289.3" cy="475.1" r="2.9" fill="#5a6838"/><circle cx="304.4" cy="475.1" r="2.9" fill="#5a6838"/><circle cx="319.5" cy="475.1" r="2.9" fill="#5a6838"/><circle cx="335.1" cy="476" r="2.9" fill="#5a6838"/><circle cx="350.8" cy="476" r="2.9" fill="#5a6838"/><circle cx="366.6" cy="476.6" r="2.9" fill="#5a6838"/><line x1="58.4" y1="415.2" x2="58.4" y2="684.3" stroke="#666" stroke-width="1.5"/><line x1="54.4" y1="680.3" x2="427.8" y2="680.3" stroke="#666" stroke-width="1.5"/><line x1="74.6" y1="680" x2="366.8" y2="680" stroke="#4a4a4a" stroke-width="1.8"/><line x1="53.4" y1="680" x2="58.4" y2="680" stroke="#666" stroke-width="1.1"/><line x1="55.4" y1="662.5" x2="58.4" y2="662.5" stroke="#666" stroke-width="1.1"/><line x1="53.4" y1="645" x2="58.4" y2="645" stroke="#666" stroke-width="1.1"/><line x1="55.4" y1="627.5" x2="58.4" y2="627.5" stroke="#666" stroke-width="1.1"/><line x1="53.4" y1="610" x2="58.4" y2="610" stroke="#666" stroke-width="1.1"/><line x1="55.4" y1="592.5" x2="58.4" y2="592.5" stroke="#666" stroke-width="1.1"/><line x1="53.4" y1="575" x2="58.4" y2="575" stroke="#666" stroke-width="1.1"/><line x1="55.4" y1="557.5" x2="58.4" y2="557.5" stroke="#666" stroke-width="1.1"/><line x1="53.4" y1="540" x2="58.4" y2="540" stroke="#666" stroke-width="1.1"/><line x1="55.4" y1="522.5" x2="58.4" y2="522.5" stroke="#666" stroke-width="1.1"/><line x1="53.4" y1="505" x2="58.4" y2="505" stroke="#666" stroke-width="1.1"/><line x1="55.4" y1="487.5" x2="58.4" y2="487.5" stroke="#666" stroke-width="1.1"/><line x1="53.4" y1="470" x2="58.4" y2="470" stroke="#666" stroke-width="1.1"/><line x1="55.4" y1="452.5" x2="58.4" y2="452.5" stroke="#666" stroke-width="1.1"/><line x1="53.4" y1="435" x2="58.4" y2="435" stroke="#666" stroke-width="1.1"/><line x1="55.4" y1="417.5" x2="58.4" y2="417.5" stroke="#666" stroke-width="1.1"/><text x="49.9" y="685.3" font-size="18.5" fill="#303030" stroke="#303030" stroke-width="0.4" text-anchor="end">0</text><text x="49.9" y="650.3" font-size="18.5" fill="#303030" stroke="#303030" stroke-width="0.4" text-anchor="end">1</text><text x="49.9" y="615.3" font-size="18.5" fill="#303030" stroke="#303030" stroke-width="0.4" text-anchor="end">2</text><text x="49.9" y="580.3" font-size="18.5" fill="#303030" stroke="#303030" stroke-width="0.4" text-anchor="end">3</text><text x="49.9" y="545.3" font-size="18.5" fill="#303030" stroke="#303030" stroke-width="0.4" text-anchor="end">4</text><text x="49.9" y="510.3" font-size="18.5" fill="#303030" stroke="#303030" stroke-width="0.4" text-anchor="end">5</text><text x="49.9" y="475.3" font-size="18.5" fill="#303030" stroke="#303030" stroke-width="0.4" text-anchor="end">6</text><text x="49.9" y="440.3" font-size="18.5" fill="#303030" stroke="#303030" stroke-width="0.4" text-anchor="end">7</text><line x1="59.2" y1="680.3" x2="59.2" y2="685.3" stroke="#666" stroke-width="1.1"/><line x1="74.6" y1="680.3" x2="74.6" y2="682.8" stroke="#666" stroke-width="1.1"/><line x1="89.9" y1="680.3" x2="89.9" y2="682.8" stroke="#666" stroke-width="1.1"/><line x1="105.3" y1="680.3" x2="105.3" y2="682.8" stroke="#666" stroke-width="1.1"/><line x1="120.7" y1="680.3" x2="120.7" y2="682.8" stroke="#666" stroke-width="1.1"/><line x1="136.1" y1="680.3" x2="136.1" y2="685.3" stroke="#666" stroke-width="1.1"/><line x1="151.4" y1="680.3" x2="151.4" y2="682.8" stroke="#666" stroke-width="1.1"/><line x1="166.8" y1="680.3" x2="166.8" y2="682.8" stroke="#666" stroke-width="1.1"/><line x1="182.2" y1="680.3" x2="182.2" y2="682.8" stroke="#666" stroke-width="1.1"/><line x1="197.5" y1="680.3" x2="197.5" y2="682.8" stroke="#666" stroke-width="1.1"/><line x1="212.9" y1="680.3" x2="212.9" y2="685.3" stroke="#666" stroke-width="1.1"/><line x1="228.3" y1="680.3" x2="228.3" y2="682.8" stroke="#666" stroke-width="1.1"/><line x1="243.6" y1="680.3" x2="243.6" y2="682.8" stroke="#666" stroke-width="1.1"/><line x1="259" y1="680.3" x2="259" y2="682.8" stroke="#666" stroke-width="1.1"/><line x1="274.4" y1="680.3" x2="274.4" y2="682.8" stroke="#666" stroke-width="1.1"/><line x1="289.8" y1="680.3" x2="289.8" y2="685.3" stroke="#666" stroke-width="1.1"/><line x1="305.1" y1="680.3" x2="305.1" y2="682.8" stroke="#666" stroke-width="1.1"/><line x1="320.5" y1="680.3" x2="320.5" y2="682.8" stroke="#666" stroke-width="1.1"/><line x1="335.9" y1="680.3" x2="335.9" y2="682.8" stroke="#666" stroke-width="1.1"/><line x1="351.2" y1="680.3" x2="351.2" y2="682.8" stroke="#666" stroke-width="1.1"/><line x1="366.6" y1="680.3" x2="366.6" y2="685.3" stroke="#666" stroke-width="1.1"/><line x1="382" y1="680.3" x2="382" y2="682.8" stroke="#666" stroke-width="1.1"/><line x1="397.3" y1="680.3" x2="397.3" y2="682.8" stroke="#666" stroke-width="1.1"/><line x1="412.7" y1="680.3" x2="412.7" y2="682.8" stroke="#666" stroke-width="1.1"/><text x="59.2" y="702.8" font-size="18.5" fill="#303030" stroke="#303030" stroke-width="0.4" text-anchor="middle">0</text><text x="136.1" y="702.8" font-size="18.5" fill="#303030" stroke="#303030" stroke-width="0.4" text-anchor="middle">5</text><text x="212.9" y="702.8" font-size="18.5" fill="#303030" stroke="#303030" stroke-width="0.4" text-anchor="middle">10</text><text x="289.8" y="702.8" font-size="18.5" fill="#303030" stroke="#303030" stroke-width="0.4" text-anchor="middle">15</text><text x="366.6" y="702.8" font-size="18.5" fill="#303030" stroke="#303030" stroke-width="0.4" text-anchor="middle">20</text><text x="153.8" y="729.5" font-size="23.5" fill="#303030" stroke="#303030" stroke-width="0.6" text-anchor="start" textLength="148.3" lengthAdjust="spacingAndGlyphs">Cycle number</text><text transform="translate(30.5,546.7) rotate(-90)" x="0" y="0" font-size="24.5" fill="#303030" stroke="#303030" stroke-width="0.4" text-anchor="middle" textLength="183.5" lengthAdjust="spacingAndGlyphs">H-content (wt. %)</text><text x="216.5" y="416" font-size="34" fill="#8e9350" stroke="#8e9350" stroke-width="0.3" text-anchor="middle">Y</text><text x="305.4" y="433.5" font-size="17.5" fill="#303030" stroke="#303030" stroke-width="0.6" text-anchor="start" textLength="113.6" lengthAdjust="spacingAndGlyphs">unreacted Mg</text><text x="160.3" y="558.4" font-size="17.5" fill="#303030" stroke="#303030" stroke-width="0.6" text-anchor="start" textLength="113.9" lengthAdjust="spacingAndGlyphs">retained MgH</text><text x="273.4" y="563.9" font-size="10" fill="#303030" stroke="#303030" stroke-width="0.2" text-anchor="start">2</text><text x="157.1" y="482.6" font-size="24.5" fill="#303030" stroke="#303030" stroke-width="0.7" text-anchor="start">C</text><text x="174.4" y="490.5" font-size="13.5" fill="#303030" stroke="#303030" stroke-width="0.4" text-anchor="start">rev</text><path d="M139.8,454.5 L139.8,468.5 Q139.8,475 134.8,476" fill="none" stroke="#555555" stroke-width="2.6"/><polygon points="139.8,451.5 137.6,456.5 142,456.5" fill="#111"/><rect x="137.6" y="466.5" width="4.4" height="5" fill="#111"/><text x="386.6" y="653.9" font-size="16" fill="#303030" stroke="#303030" stroke-width="0.1" text-anchor="start" textLength="22.2" lengthAdjust="spacingAndGlyphs">YH</text><text x="409.5" y="659.9" font-size="10" fill="#303030" stroke="#303030" stroke-width="0.2" text-anchor="start">3</text><path d="M402,662.6 C400,667.6 394,671.4 380.9,672.9" fill="none" stroke="#2a2a2a" stroke-width="1.7"/><polygon points="374.4,673.7 382.9,670.6 383.9,673.9 382.9,676" fill="#222"/></g>
<g><polyline points="550.8,442.2 854.2,442.2 854.2,531" fill="none" stroke="#6060b0" stroke-width="1.6"/><line x1="550.8" y1="637.1" x2="550.8" y2="667.4" stroke="#c4c4f2" stroke-width="1" stroke-dasharray="2,2"/><line x1="853.1" y1="652.8" x2="853.1" y2="667.4" stroke="#c4c4f2" stroke-width="1" stroke-dasharray="2,2"/><rect x="550" y="667.4" width="303.6" height="12.9" fill="#bebebe" stroke="#9a9a9a" stroke-width="1"/><line x1="550" y1="667.9" x2="853.6" y2="667.9" stroke="#8a8a8a" stroke-width="1.8"/><rect x="724" y="452" width="125" height="21" fill="#fff" fill-opacity="0.5"/><polyline points="550.8,442.3 567.5,461.6 582.9,486.4 599.6,500.1 615,504.7 630.6,509.8 646.6,515 662.5,518 677.6,521.2 693.4,523.4 709.3,524.5 725.2,525 741.1,528 757,529.1 773,529.6 788.9,529.6 804.8,529.6 820.7,531 836.6,531 853.2,531" fill="none" stroke="#8c8cff" stroke-width="1.5" stroke-linejoin="round"/><polygon points="550.8,437.7 546.5,445.4 555.1,445.4" fill="#3a3aa6"/><polygon points="567.5,457 563.2,464.7 571.8,464.7" fill="#3a3aa6"/><polygon points="582.9,481.8 578.6,489.5 587.2,489.5" fill="#3a3aa6"/><polygon points="599.6,495.5 595.3,503.2 603.9,503.2" fill="#3a3aa6"/><polygon points="615,500.1 610.7,507.8 619.3,507.8" fill="#3a3aa6"/><polygon points="630.6,505.2 626.3,512.9 634.9,512.9" fill="#3a3aa6"/><polygon points="646.6,510.4 642.3,518.1 650.9,518.1" fill="#3a3aa6"/><polygon points="662.5,513.4 658.2,521.1 666.8,521.1" fill="#3a3aa6"/><polygon points="677.6,516.6 673.3,524.3 681.9,524.3" fill="#3a3aa6"/><polygon points="693.4,518.8 689.1,526.5 697.7,526.5" fill="#3a3aa6"/><polygon points="709.3,519.9 705,527.6 713.6,527.6" fill="#3a3aa6"/><polygon points="725.2,520.4 720.9,528.1 729.5,528.1" fill="#3a3aa6"/><polygon points="741.1,523.4 736.8,531.1 745.4,531.1" fill="#3a3aa6"/><polygon points="757,524.5 752.7,532.2 761.3,532.2" fill="#3a3aa6"/><polygon points="773,525 768.7,532.7 777.3,532.7" fill="#3a3aa6"/><polygon points="788.9,525 784.6,532.7 793.2,532.7" fill="#3a3aa6"/><polygon points="804.8,525 800.5,532.7 809.1,532.7" fill="#3a3aa6"/><polygon points="820.7,526.4 816.4,534.1 825,534.1" fill="#3a3aa6"/><polygon points="836.6,526.4 832.3,534.1 840.9,534.1" fill="#3a3aa6"/><polygon points="853.2,526.4 848.9,534.1 857.5,534.1" fill="#3a3aa6"/><polyline points="550.8,637.1 566.9,639 582.6,639.8 598.9,640.4 615.1,640.9 631.4,642.3 646.9,642.5 662.6,643.1 677.5,643.9 693.7,645.4 709.6,645.9 725.7,646.7 741.3,647.4 757.4,648.4 773.8,648.4 789.6,649.8 805.5,649.8 821.4,650.3 837.2,650.8 853.1,652.8" fill="none" stroke="#8c8cff" stroke-width="1.5" stroke-linejoin="round"/><polygon points="550.8,632.5 546.5,640.2 555.1,640.2" fill="#16168c"/><polygon points="566.9,634.4 562.6,642.1 571.2,642.1" fill="#16168c"/><polygon points="582.6,635.2 578.3,642.9 586.9,642.9" fill="#16168c"/><polygon points="598.9,635.8 594.6,643.5 603.2,643.5" fill="#16168c"/><polygon points="615.1,636.3 610.8,644 619.4,644" fill="#16168c"/><polygon points="631.4,637.7 627.1,645.4 635.7,645.4" fill="#16168c"/><polygon points="646.9,637.9 642.6,645.6 651.2,645.6" fill="#16168c"/><polygon points="662.6,638.5 658.3,646.2 666.9,646.2" fill="#16168c"/><polygon points="677.5,639.3 673.2,647 681.8,647" fill="#16168c"/><polygon points="693.7,640.8 689.4,648.5 698,648.5" fill="#16168c"/><polygon points="709.6,641.3 705.3,649 713.9,649" fill="#16168c"/><polygon points="725.7,642.1 721.4,649.8 730,649.8" fill="#16168c"/><polygon points="741.3,642.8 737,650.5 745.6,650.5" fill="#16168c"/><polygon points="757.4,643.8 753.1,651.5 761.7,651.5" fill="#16168c"/><polygon points="773.8,643.8 769.5,651.5 778.1,651.5" fill="#16168c"/><polygon points="789.6,645.2 785.3,652.9 793.9,652.9" fill="#16168c"/><polygon points="805.5,645.2 801.2,652.9 809.8,652.9" fill="#16168c"/><polygon points="821.4,645.7 817.1,653.4 825.7,653.4" fill="#16168c"/><polygon points="837.2,646.2 832.9,653.9 841.5,653.9" fill="#16168c"/><polygon points="853.1,648.2 848.8,655.9 857.4,655.9" fill="#16168c"/><line x1="535.5" y1="415.2" x2="535.5" y2="684.3" stroke="#666" stroke-width="1.5"/><line x1="531.5" y1="680.3" x2="918" y2="680.3" stroke="#666" stroke-width="1.5"/><line x1="550" y1="680" x2="853.6" y2="680" stroke="#4a4a4a" stroke-width="1.8"/><line x1="530.5" y1="680" x2="535.5" y2="680" stroke="#666" stroke-width="1.1"/><line x1="532.5" y1="662.5" x2="535.5" y2="662.5" stroke="#666" stroke-width="1.1"/><line x1="530.5" y1="645" x2="535.5" y2="645" stroke="#666" stroke-width="1.1"/><line x1="532.5" y1="627.5" x2="535.5" y2="627.5" stroke="#666" stroke-width="1.1"/><line x1="530.5" y1="610" x2="535.5" y2="610" stroke="#666" stroke-width="1.1"/><line x1="532.5" y1="592.5" x2="535.5" y2="592.5" stroke="#666" stroke-width="1.1"/><line x1="530.5" y1="575" x2="535.5" y2="575" stroke="#666" stroke-width="1.1"/><line x1="532.5" y1="557.5" x2="535.5" y2="557.5" stroke="#666" stroke-width="1.1"/><line x1="530.5" y1="540" x2="535.5" y2="540" stroke="#666" stroke-width="1.1"/><line x1="532.5" y1="522.5" x2="535.5" y2="522.5" stroke="#666" stroke-width="1.1"/><line x1="530.5" y1="505" x2="535.5" y2="505" stroke="#666" stroke-width="1.1"/><line x1="532.5" y1="487.5" x2="535.5" y2="487.5" stroke="#666" stroke-width="1.1"/><line x1="530.5" y1="470" x2="535.5" y2="470" stroke="#666" stroke-width="1.1"/><line x1="532.5" y1="452.5" x2="535.5" y2="452.5" stroke="#666" stroke-width="1.1"/><line x1="530.5" y1="435" x2="535.5" y2="435" stroke="#666" stroke-width="1.1"/><line x1="532.5" y1="417.5" x2="535.5" y2="417.5" stroke="#666" stroke-width="1.1"/><text x="524.7" y="685.3" font-size="18.5" fill="#303030" stroke="#303030" stroke-width="0.4" text-anchor="end">0</text><text x="524.7" y="650.3" font-size="18.5" fill="#303030" stroke="#303030" stroke-width="0.4" text-anchor="end">1</text><text x="524.7" y="615.3" font-size="18.5" fill="#303030" stroke="#303030" stroke-width="0.4" text-anchor="end">2</text><text x="524.7" y="580.3" font-size="18.5" fill="#303030" stroke="#303030" stroke-width="0.4" text-anchor="end">3</text><text x="524.7" y="545.3" font-size="18.5" fill="#303030" stroke="#303030" stroke-width="0.4" text-anchor="end">4</text><text x="524.7" y="510.3" font-size="18.5" fill="#303030" stroke="#303030" stroke-width="0.4" text-anchor="end">5</text><text x="524.7" y="475.3" font-size="18.5" fill="#303030" stroke="#303030" stroke-width="0.4" text-anchor="end">6</text><text x="524.7" y="440.3" font-size="18.5" fill="#303030" stroke="#303030" stroke-width="0.4" text-anchor="end">7</text><line x1="535" y1="680.3" x2="535" y2="685.3" stroke="#666" stroke-width="1.1"/><line x1="550.9" y1="680.3" x2="550.9" y2="682.8" stroke="#666" stroke-width="1.1"/><line x1="566.8" y1="680.3" x2="566.8" y2="682.8" stroke="#666" stroke-width="1.1"/><line x1="582.7" y1="680.3" x2="582.7" y2="682.8" stroke="#666" stroke-width="1.1"/><line x1="598.6" y1="680.3" x2="598.6" y2="682.8" stroke="#666" stroke-width="1.1"/><line x1="614.5" y1="680.3" x2="614.5" y2="685.3" stroke="#666" stroke-width="1.1"/><line x1="630.5" y1="680.3" x2="630.5" y2="682.8" stroke="#666" stroke-width="1.1"/><line x1="646.4" y1="680.3" x2="646.4" y2="682.8" stroke="#666" stroke-width="1.1"/><line x1="662.3" y1="680.3" x2="662.3" y2="682.8" stroke="#666" stroke-width="1.1"/><line x1="678.2" y1="680.3" x2="678.2" y2="682.8" stroke="#666" stroke-width="1.1"/><line x1="694.1" y1="680.3" x2="694.1" y2="685.3" stroke="#666" stroke-width="1.1"/><line x1="710" y1="680.3" x2="710" y2="682.8" stroke="#666" stroke-width="1.1"/><line x1="725.9" y1="680.3" x2="725.9" y2="682.8" stroke="#666" stroke-width="1.1"/><line x1="741.8" y1="680.3" x2="741.8" y2="682.8" stroke="#666" stroke-width="1.1"/><line x1="757.7" y1="680.3" x2="757.7" y2="682.8" stroke="#666" stroke-width="1.1"/><line x1="773.6" y1="680.3" x2="773.6" y2="685.3" stroke="#666" stroke-width="1.1"/><line x1="789.6" y1="680.3" x2="789.6" y2="682.8" stroke="#666" stroke-width="1.1"/><line x1="805.5" y1="680.3" x2="805.5" y2="682.8" stroke="#666" stroke-width="1.1"/><line x1="821.4" y1="680.3" x2="821.4" y2="682.8" stroke="#666" stroke-width="1.1"/><line x1="837.3" y1="680.3" x2="837.3" y2="682.8" stroke="#666" stroke-width="1.1"/><line x1="853.2" y1="680.3" x2="853.2" y2="685.3" stroke="#666" stroke-width="1.1"/><line x1="869.1" y1="680.3" x2="869.1" y2="682.8" stroke="#666" stroke-width="1.1"/><line x1="885" y1="680.3" x2="885" y2="682.8" stroke="#666" stroke-width="1.1"/><line x1="900.9" y1="680.3" x2="900.9" y2="682.8" stroke="#666" stroke-width="1.1"/><line x1="916.8" y1="680.3" x2="916.8" y2="682.8" stroke="#666" stroke-width="1.1"/><text x="535" y="703.4" font-size="18.5" fill="#303030" stroke="#303030" stroke-width="0.4" text-anchor="middle">0</text><text x="614.5" y="703.4" font-size="18.5" fill="#303030" stroke="#303030" stroke-width="0.4" text-anchor="middle">5</text><text x="694.1" y="703.4" font-size="18.5" fill="#303030" stroke="#303030" stroke-width="0.4" text-anchor="middle">10</text><text x="773.6" y="703.4" font-size="18.5" fill="#303030" stroke="#303030" stroke-width="0.4" text-anchor="middle">15</text><text x="853.2" y="703.4" font-size="18.5" fill="#303030" stroke="#303030" stroke-width="0.4" text-anchor="middle">20</text><text x="648.4" y="728.1" font-size="23.5" fill="#303030" stroke="#303030" stroke-width="0.6" text-anchor="start" textLength="152.8" lengthAdjust="spacingAndGlyphs">Cycle number</text><text transform="translate(505.5,545.7) rotate(-90)" x="0" y="0" font-size="24.5" fill="#303030" stroke="#303030" stroke-width="0.4" text-anchor="middle" textLength="181.5" lengthAdjust="spacingAndGlyphs">H-content (wt. %)</text><text x="698.4" y="427" font-size="32" fill="#3535c5" stroke="#3535c5" stroke-width="0.3" text-anchor="middle">Zr</text><text x="726" y="468" font-size="17.5" fill="#303030" stroke="#303030" stroke-width="0.6" text-anchor="start" textLength="120.1" lengthAdjust="spacingAndGlyphs">unreacted Mg</text><text x="558.3" y="660.7" font-size="17.5" fill="#303030" stroke="#303030" stroke-width="0.6" text-anchor="start" textLength="111.2" lengthAdjust="spacingAndGlyphs">retained MgH</text><rect x="668.5" y="666.7" width="8" height="6" fill="#fff"/><text x="669.2" y="668.7" font-size="13" fill="#303030" stroke="#303030" stroke-width="0.3" text-anchor="start">2</text><text x="710.3" y="586.7" font-size="24.5" fill="#303030" stroke="#303030" stroke-width="0.7" text-anchor="start">C</text><text x="729.8" y="596.5" font-size="13.5" fill="#303030" stroke="#303030" stroke-width="0.4" text-anchor="start">rev</text><line x1="677.2" y1="535.8" x2="677.2" y2="628" stroke="#9a9a9a" stroke-width="4"/><polygon points="677.2,528.8 674.7,536.8 679.7,536.8" fill="#111"/><polygon points="677.2,635 674.7,627 679.7,627" fill="#111"/><text x="869.6" y="658.9" font-size="16" fill="#303030" stroke="#303030" stroke-width="0.1" text-anchor="start" textLength="31.4" lengthAdjust="spacingAndGlyphs">ZrH</text><text x="901.5" y="664.9" font-size="10" fill="#303030" stroke="#303030" stroke-width="0.2" text-anchor="start">2</text><path d="M887.3,665 C885.3,670 879.3,672.7 866.4,674.2" fill="none" stroke="#2a2a2a" stroke-width="1.7"/><polygon points="859.9,675 868.4,671.9 869.4,675.2 868.4,677.3" fill="#222"/></g>
<g><polyline points="1010.3,442.6 1291.9,442.6 1291.9,534.9" fill="none" stroke="#909890" stroke-width="1.6"/><line x1="1010.8" y1="640.9" x2="1010.8" y2="667.2" stroke="#8a8a8a" stroke-width="1.4"/><line x1="1290.9" y1="661" x2="1290.9" y2="667.2" stroke="#c4dec4" stroke-width="1" stroke-dasharray="2,2"/><rect x="1010" y="667.2" width="281.1" height="13.1" fill="#bebebe" stroke="#9a9a9a" stroke-width="1"/><line x1="1010" y1="667.7" x2="1291.1" y2="667.7" stroke="#7a8a7a" stroke-width="1.8"/><polyline points="1010.3,443.2 1025.9,455.4 1040.6,465.7 1055.7,477.2 1070.4,486.4 1085.5,493.2 1099.8,500.1 1114.7,505.9 1129,511 1144.3,516 1159,519.5 1173.9,520.4 1188.4,524.1 1203,524.5 1218.2,528 1232.9,526.8 1246.2,532.6 1261.1,532.6 1276,535.5 1290.9,534.9" fill="none" stroke="#b4eab4" stroke-width="3" stroke-linejoin="round"/><circle cx="1010.3" cy="443.2" r="3.4" fill="#5c8460"/><circle cx="1025.9" cy="455.4" r="3.4" fill="#5c8460"/><circle cx="1040.6" cy="465.7" r="3.4" fill="#5c8460"/><circle cx="1055.7" cy="477.2" r="3.4" fill="#5c8460"/><circle cx="1070.4" cy="486.4" r="3.4" fill="#5c8460"/><circle cx="1085.5" cy="493.2" r="3.4" fill="#5c8460"/><circle cx="1099.8" cy="500.1" r="3.4" fill="#5c8460"/><circle cx="1114.7" cy="505.9" r="3.4" fill="#5c8460"/><circle cx="1129" cy="511" r="3.4" fill="#5c8460"/><circle cx="1144.3" cy="516" r="3.4" fill="#5c8460"/><circle cx="1159" cy="519.5" r="3.4" fill="#5c8460"/><circle cx="1173.9" cy="520.4" r="3.4" fill="#5c8460"/><circle cx="1188.4" cy="524.1" r="3.4" fill="#5c8460"/><circle cx="1203" cy="524.5" r="3.4" fill="#5c8460"/><circle cx="1218.2" cy="528" r="3.4" fill="#5c8460"/><circle cx="1232.9" cy="526.8" r="3.4" fill="#5c8460"/><circle cx="1246.2" cy="532.6" r="3.4" fill="#5c8460"/><circle cx="1261.1" cy="532.6" r="3.4" fill="#5c8460"/><circle cx="1276" cy="535.5" r="3.4" fill="#5c8460"/><circle cx="1290.9" cy="534.9" r="3.4" fill="#5c8460"/><polyline points="1010.8,640.9 1025.5,642.5 1040.4,643.9 1055.3,645.3 1070.3,646.6 1085.2,648 1099.6,648.5 1114.5,649.8 1129.4,650.2 1144.3,651.8 1159,652.5 1173.2,653.9 1188.3,654.8 1203.4,655.9 1217.7,656.7 1232.5,657.6 1247.3,658.2 1261.5,659.6 1276.6,660.4 1290.9,661" fill="none" stroke="#b4eab4" stroke-width="3" stroke-linejoin="round"/><circle cx="1010.8" cy="640.9" r="3.4" fill="#2c5c32"/><circle cx="1025.5" cy="642.5" r="3.4" fill="#2c5c32"/><circle cx="1040.4" cy="643.9" r="3.4" fill="#2c5c32"/><circle cx="1055.3" cy="645.3" r="3.4" fill="#2c5c32"/><circle cx="1070.3" cy="646.6" r="3.4" fill="#2c5c32"/><circle cx="1085.2" cy="648" r="3.4" fill="#2c5c32"/><circle cx="1099.6" cy="648.5" r="3.4" fill="#2c5c32"/><circle cx="1114.5" cy="649.8" r="3.4" fill="#2c5c32"/><circle cx="1129.4" cy="650.2" r="3.4" fill="#2c5c32"/><circle cx="1144.3" cy="651.8" r="3.4" fill="#2c5c32"/><circle cx="1159" cy="652.5" r="3.4" fill="#2c5c32"/><circle cx="1173.2" cy="653.9" r="3.4" fill="#2c5c32"/><circle cx="1188.3" cy="654.8" r="3.4" fill="#2c5c32"/><circle cx="1203.4" cy="655.9" r="3.4" fill="#2c5c32"/><circle cx="1217.7" cy="656.7" r="3.4" fill="#2c5c32"/><circle cx="1232.5" cy="657.6" r="3.4" fill="#2c5c32"/><circle cx="1247.3" cy="658.2" r="3.4" fill="#2c5c32"/><circle cx="1261.5" cy="659.6" r="3.4" fill="#2c5c32"/><circle cx="1276.6" cy="660.4" r="3.4" fill="#2c5c32"/><circle cx="1290.9" cy="661" r="3.4" fill="#2c5c32"/><line x1="995.6" y1="416.4" x2="995.6" y2="684.3" stroke="#666" stroke-width="1.5"/><line x1="991.6" y1="680.3" x2="1352" y2="680.3" stroke="#666" stroke-width="1.5"/><line x1="1010" y1="680" x2="1291.1" y2="680" stroke="#4a4a4a" stroke-width="1.8"/><line x1="990.6" y1="680" x2="995.6" y2="680" stroke="#666" stroke-width="1.1"/><line x1="992.6" y1="662.5" x2="995.6" y2="662.5" stroke="#666" stroke-width="1.1"/><line x1="990.6" y1="644.9" x2="995.6" y2="644.9" stroke="#666" stroke-width="1.1"/><line x1="992.6" y1="627.4" x2="995.6" y2="627.4" stroke="#666" stroke-width="1.1"/><line x1="990.6" y1="609.9" x2="995.6" y2="609.9" stroke="#666" stroke-width="1.1"/><line x1="992.6" y1="592.4" x2="995.6" y2="592.4" stroke="#666" stroke-width="1.1"/><line x1="990.6" y1="574.8" x2="995.6" y2="574.8" stroke="#666" stroke-width="1.1"/><line x1="992.6" y1="557.3" x2="995.6" y2="557.3" stroke="#666" stroke-width="1.1"/><line x1="990.6" y1="539.8" x2="995.6" y2="539.8" stroke="#666" stroke-width="1.1"/><line x1="992.6" y1="522.2" x2="995.6" y2="522.2" stroke="#666" stroke-width="1.1"/><line x1="990.6" y1="504.7" x2="995.6" y2="504.7" stroke="#666" stroke-width="1.1"/><line x1="992.6" y1="487.2" x2="995.6" y2="487.2" stroke="#666" stroke-width="1.1"/><line x1="990.6" y1="469.6" x2="995.6" y2="469.6" stroke="#666" stroke-width="1.1"/><line x1="992.6" y1="452.1" x2="995.6" y2="452.1" stroke="#666" stroke-width="1.1"/><line x1="990.6" y1="434.6" x2="995.6" y2="434.6" stroke="#666" stroke-width="1.1"/><text x="987.1" y="686.1" font-size="18.5" fill="#303030" stroke="#303030" stroke-width="0.4" text-anchor="end">0</text><text x="987.1" y="651" font-size="18.5" fill="#303030" stroke="#303030" stroke-width="0.4" text-anchor="end">1</text><text x="987.1" y="616" font-size="18.5" fill="#303030" stroke="#303030" stroke-width="0.4" text-anchor="end">2</text><text x="987.1" y="580.9" font-size="18.5" fill="#303030" stroke="#303030" stroke-width="0.4" text-anchor="end">3</text><text x="987.1" y="545.9" font-size="18.5" fill="#303030" stroke="#303030" stroke-width="0.4" text-anchor="end">4</text><text x="987.1" y="510.8" font-size="18.5" fill="#303030" stroke="#303030" stroke-width="0.4" text-anchor="end">5</text><text x="987.1" y="475.7" font-size="18.5" fill="#303030" stroke="#303030" stroke-width="0.4" text-anchor="end">6</text><text x="987.1" y="440.7" font-size="18.5" fill="#303030" stroke="#303030" stroke-width="0.4" text-anchor="end">7</text><line x1="995.7" y1="680.3" x2="995.7" y2="685.3" stroke="#666" stroke-width="1.1"/><line x1="1010.5" y1="680.3" x2="1010.5" y2="682.8" stroke="#666" stroke-width="1.1"/><line x1="1025.2" y1="680.3" x2="1025.2" y2="682.8" stroke="#666" stroke-width="1.1"/><line x1="1040" y1="680.3" x2="1040" y2="682.8" stroke="#666" stroke-width="1.1"/><line x1="1054.7" y1="680.3" x2="1054.7" y2="682.8" stroke="#666" stroke-width="1.1"/><line x1="1069.5" y1="680.3" x2="1069.5" y2="685.3" stroke="#666" stroke-width="1.1"/><line x1="1084.3" y1="680.3" x2="1084.3" y2="682.8" stroke="#666" stroke-width="1.1"/><line x1="1099" y1="680.3" x2="1099" y2="682.8" stroke="#666" stroke-width="1.1"/><line x1="1113.8" y1="680.3" x2="1113.8" y2="682.8" stroke="#666" stroke-width="1.1"/><line x1="1128.5" y1="680.3" x2="1128.5" y2="682.8" stroke="#666" stroke-width="1.1"/><line x1="1143.3" y1="680.3" x2="1143.3" y2="685.3" stroke="#666" stroke-width="1.1"/><line x1="1158.1" y1="680.3" x2="1158.1" y2="682.8" stroke="#666" stroke-width="1.1"/><line x1="1172.8" y1="680.3" x2="1172.8" y2="682.8" stroke="#666" stroke-width="1.1"/><line x1="1187.6" y1="680.3" x2="1187.6" y2="682.8" stroke="#666" stroke-width="1.1"/><line x1="1202.3" y1="680.3" x2="1202.3" y2="682.8" stroke="#666" stroke-width="1.1"/><line x1="1217.1" y1="680.3" x2="1217.1" y2="685.3" stroke="#666" stroke-width="1.1"/><line x1="1231.9" y1="680.3" x2="1231.9" y2="682.8" stroke="#666" stroke-width="1.1"/><line x1="1246.6" y1="680.3" x2="1246.6" y2="682.8" stroke="#666" stroke-width="1.1"/><line x1="1261.4" y1="680.3" x2="1261.4" y2="682.8" stroke="#666" stroke-width="1.1"/><line x1="1276.1" y1="680.3" x2="1276.1" y2="682.8" stroke="#666" stroke-width="1.1"/><line x1="1290.9" y1="680.3" x2="1290.9" y2="685.3" stroke="#666" stroke-width="1.1"/><line x1="1305.7" y1="680.3" x2="1305.7" y2="682.8" stroke="#666" stroke-width="1.1"/><line x1="1320.4" y1="680.3" x2="1320.4" y2="682.8" stroke="#666" stroke-width="1.1"/><line x1="1335.2" y1="680.3" x2="1335.2" y2="682.8" stroke="#666" stroke-width="1.1"/><line x1="1349.9" y1="680.3" x2="1349.9" y2="682.8" stroke="#666" stroke-width="1.1"/><text x="995.7" y="702.4" font-size="18.5" fill="#303030" stroke="#303030" stroke-width="0.4" text-anchor="middle">0</text><text x="1069.5" y="702.4" font-size="18.5" fill="#303030" stroke="#303030" stroke-width="0.4" text-anchor="middle">5</text><text x="1143.3" y="702.4" font-size="18.5" fill="#303030" stroke="#303030" stroke-width="0.4" text-anchor="middle">10</text><text x="1217.1" y="702.4" font-size="18.5" fill="#303030" stroke="#303030" stroke-width="0.4" text-anchor="middle">15</text><text x="1290.9" y="702.4" font-size="18.5" fill="#303030" stroke="#303030" stroke-width="0.4" text-anchor="middle">20</text><text x="1094.6" y="728.1" font-size="23.5" fill="#303030" stroke="#303030" stroke-width="0.6" text-anchor="start" textLength="141.6" lengthAdjust="spacingAndGlyphs">Cycle number</text><text transform="translate(968,545.7) rotate(-90)" x="0" y="0" font-size="24.5" fill="#303030" stroke="#303030" stroke-width="0.4" text-anchor="middle" textLength="181.5" lengthAdjust="spacingAndGlyphs">H-content (wt. %)</text><text x="1150.4" y="429.3" font-size="31" fill="#45a845" stroke="#45a845" stroke-width="0.3" text-anchor="middle">Nb</text><text x="1170.4" y="468.3" font-size="17.5" fill="#303030" stroke="#303030" stroke-width="0.6" text-anchor="start" textLength="110.1" lengthAdjust="spacingAndGlyphs">unreacted Mg</text><text x="1175.7" y="643.4" font-size="17.5" fill="#303030" stroke="#303030" stroke-width="0.6" text-anchor="start" textLength="106.6" lengthAdjust="spacingAndGlyphs">retained MgH</text><text x="1281.7" y="648.9" font-size="10" fill="#303030" stroke="#303030" stroke-width="0.2" text-anchor="start">2</text><text x="1118.8" y="581" font-size="24.5" fill="#303030" stroke="#303030" stroke-width="0.7" text-anchor="start">C</text><text x="1137" y="587.9" font-size="13.5" fill="#303030" stroke="#303030" stroke-width="0.4" text-anchor="start">rev</text><line x1="1099.7" y1="528.5" x2="1099.7" y2="628" stroke="#999999" stroke-width="4.4"/><polygon points="1099.7,519.5 1097,529.5 1102.4,529.5" fill="#111"/><polygon points="1099.7,637 1097,627 1102.4,627" fill="#111"/><text x="1310.7" y="655.3" font-size="16" fill="#303030" stroke="#303030" stroke-width="0.1" text-anchor="start" textLength="37.2" lengthAdjust="spacingAndGlyphs">NbH</text><path d="M1330.7,662.4 C1328.7,667.4 1322.7,673.3 1309.7,674.8" fill="none" stroke="#2a2a2a" stroke-width="1.7"/><polygon points="1303.2,675.6 1311.7,672.5 1312.7,675.8 1311.7,677.9" fill="#222"/></g></g></svg>
</body></html>
